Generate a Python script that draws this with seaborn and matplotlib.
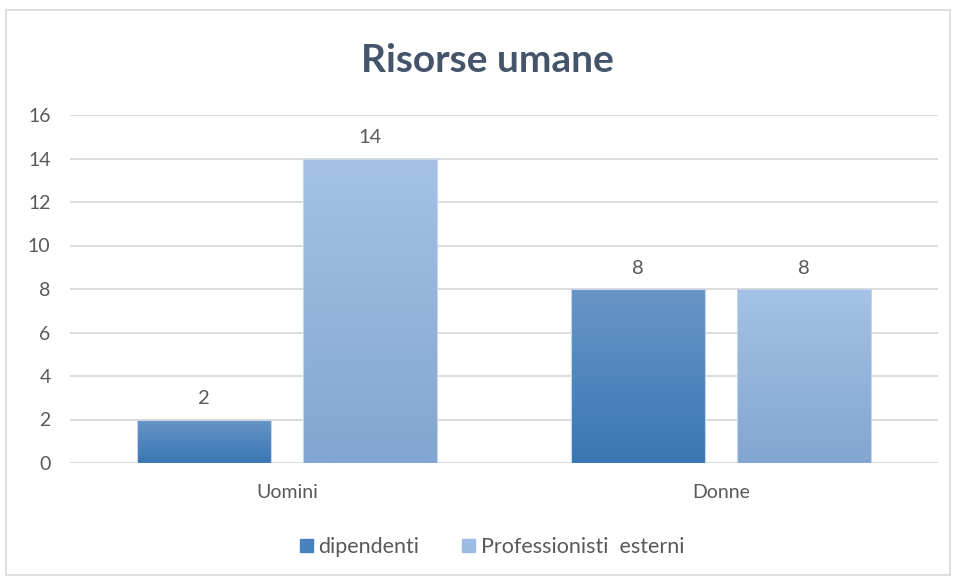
import numpy as np
import pandas as pd
import matplotlib
matplotlib.use("Agg")
import matplotlib.pyplot as plt
import seaborn as sns
from matplotlib.colors import LinearSegmentedColormap
from matplotlib.patches import Rectangle

categories = ["Uomini", "Donne"]
series = ["dipendenti", "Professionisti  esterni"]
dipendenti = [2, 8]
esterni = [14, 8]
y_ticks = [0, 2, 4, 6, 8, 10, 12, 14, 16]

# colori a gradiente (alto, basso) per ciascuna serie
gradients = {
    "dipendenti": ("#6896c6", "#3a76b3"),
    "Professionisti  esterni": ("#a5c2e6", "#82a5d1"),
}
legend_colors = {"dipendenti": "#4a82be", "Professionisti  esterni": "#9dbbe3"}

df = pd.DataFrame({
    "categoria": categories * 2,
    "serie": [series[0]] * 2 + [series[1]] * 2,
    "valore": dipendenti + esterni,
})

sns.set_style("white")
plt.rcParams["font.family"] = ["Lato", "DejaVu Sans"]

fig = plt.figure(figsize=(9.54, 5.8), dpi=100)
ax = fig.add_axes([70 / 954, 1 - 463 / 580, 868 / 954, 348 / 580])

sns.barplot(data=df, x="categoria", y="valore", hue="serie", order=categories,
            hue_order=series, palette=legend_colors, width=0.765, gap=0.19,
            ax=ax, legend=False, zorder=3)

ax.set_ylim(0, 16)
ax.set_xlim(-0.5, 1.5)
ax.set_yticks(y_ticks)
ax.yaxis.grid(True, color="#d9d9d9", linewidth=1.3, zorder=0)
ax.set_axisbelow(True)
for s in ax.spines.values():
    s.set_visible(False)
ax.tick_params(axis="both", length=0, labelsize=14, colors="#595959")
ax.tick_params(axis="y", pad=14)
ax.tick_params(axis="x", pad=15)
ax.set_xlabel("")
ax.set_ylabel("")

# gradient dentro le barre
for container, name in zip(ax.containers, series):
    top, bottom = gradients[name]
    cmap = LinearSegmentedColormap.from_list(name, [bottom, top])
    for bar in container:
        x0, y0 = bar.get_x(), bar.get_y()
        w, h = bar.get_width(), bar.get_height()
        grad = np.linspace(0, 1, 256).reshape(-1, 1)
        im = ax.imshow(grad, cmap=cmap, origin="lower", aspect="auto",
                       extent=[x0, x0 + w, y0, y0 + h], zorder=3)
        im.set_clip_path(bar)
        bar.set_facecolor("none")
        bar.set_edgecolor("#c5d6ea")
        bar.set_linewidth(0.8)
        bar.set_zorder(4)
    ax.bar_label(container, padding=9, fontsize=14.5, color="#595959")

ax.set_xlim(-0.5, 1.5)
ax.set_ylim(0, 16)

fig.text(487 / 954, 1 - 60 / 580, "Risorse umane", ha="center", va="center",
         fontsize=28, fontweight="bold", color="#44546a")

handles = [Rectangle((0, 0), 1, 1, color=legend_colors[s]) for s in series]
fig.legend(handles, series, loc="center", bbox_to_anchor=(492 / 954, 1 - 547 / 580),
           ncol=2, frameon=False, fontsize=15.5, handlelength=0.6, handleheight=0.6,
           handletextpad=0.25, columnspacing=2.0, labelcolor="#595959")

fig.patches.append(Rectangle((6 / 954, 5 / 580), 944 / 954, 565 / 580,
                             transform=fig.transFigure, fill=False,
                             edgecolor="#d9d9d9", linewidth=1.2))

fig.savefig("out.png", dpi=100)
